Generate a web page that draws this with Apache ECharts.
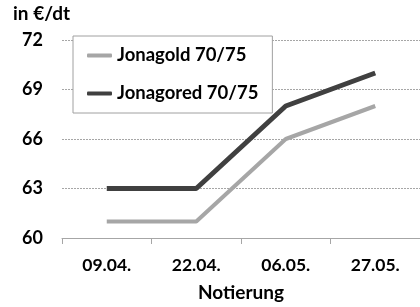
<!DOCTYPE html>
<html>
<head>
<meta charset="utf-8">
<script src="https://cdn.jsdelivr.net/npm/echarts@6/dist/echarts.min.js"></script>
<style>
  html, body { margin: 0; padding: 0; background: #fff; }
  #chart { width: 420px; height: 307px; }
</style>
</head>
<body>
<div id="chart"></div>
<script>
// Notierungstermine
const categories = ['09.04.', '22.04.', '06.05.', '27.05.'];
const jonagold = [61, 61, 66, 68];
const jonagored = [63, 63, 68, 70];
const yTicks = [60, 63, 66, 69, 72];

const fontFam = 'Lato, "Open Sans", sans-serif';
const chart = echarts.init(document.getElementById('chart'));

chart.setOption({
  animation: false,
  backgroundColor: '#fff',
  graphic: [{
    type: 'text',
    left: 13,
    top: 4,
    style: { text: 'in €/dt', font: 'bold 19px ' + fontFam, fill: '#000' }
  }],
  grid: { left: 62, right: -6, top: 40, bottom: 63, containLabel: false },
  legend: {
    orient: 'vertical',
    left: 73,
    top: 36,
    padding: [10, 14, 10, 14],
    itemGap: 19,
    itemWidth: 25,
    itemHeight: 4,
    backgroundColor: '#fff',
    borderColor: '#a0a0a0',
    borderWidth: 1,
    borderRadius: 0,
    textStyle: { fontFamily: fontFam, fontWeight: 'bold', fontSize: 18.5, color: '#000' },
    data: [
      { name: 'Jonagold 70/75', icon: 'roundRect' },
      { name: 'Jonagored 70/75', icon: 'roundRect' }
    ]
  },
  xAxis: {
    type: 'category',
    data: categories,
    boundaryGap: true,
    name: 'Notierung',
    nameLocation: 'middle',
    nameGap: 45,
    nameTextStyle: { fontFamily: fontFam, fontWeight: 'bold', fontSize: 19, color: '#000' },
    axisLine: { lineStyle: { color: '#a6a6a6', width: 1 } },
    axisTick: { show: true, length: 6, lineStyle: { color: '#a6a6a6' } },
    axisLabel: { margin: 18, fontFamily: fontFam, fontWeight: 'bold', fontSize: 17.5, color: '#000' }
  },
  yAxis: {
    type: 'value',
    min: yTicks[0],
    max: yTicks[yTicks.length - 1],
    interval: 3,
    axisLine: { show: false },
    axisTick: { show: false },
    axisLabel: { margin: 19, fontFamily: fontFam, fontWeight: 'bold', fontSize: 18, color: '#000' },
    splitLine: { lineStyle: { color: '#a6a6a6', type: [2, 1], width: 1 } }
  },
  series: [
    {
      name: 'Jonagold 70/75',
      type: 'line',
      data: jonagold,
      symbol: 'none',
      color: '#a6a6a6',
      lineStyle: { width: 4, color: '#a6a6a6' },
      z: 2
    },
    {
      name: 'Jonagored 70/75',
      type: 'line',
      data: jonagored,
      symbol: 'none',
      color: '#404040',
      lineStyle: { width: 5, color: '#404040' },
      z: 3
    }
  ]
});
</script>
</body>
</html>
